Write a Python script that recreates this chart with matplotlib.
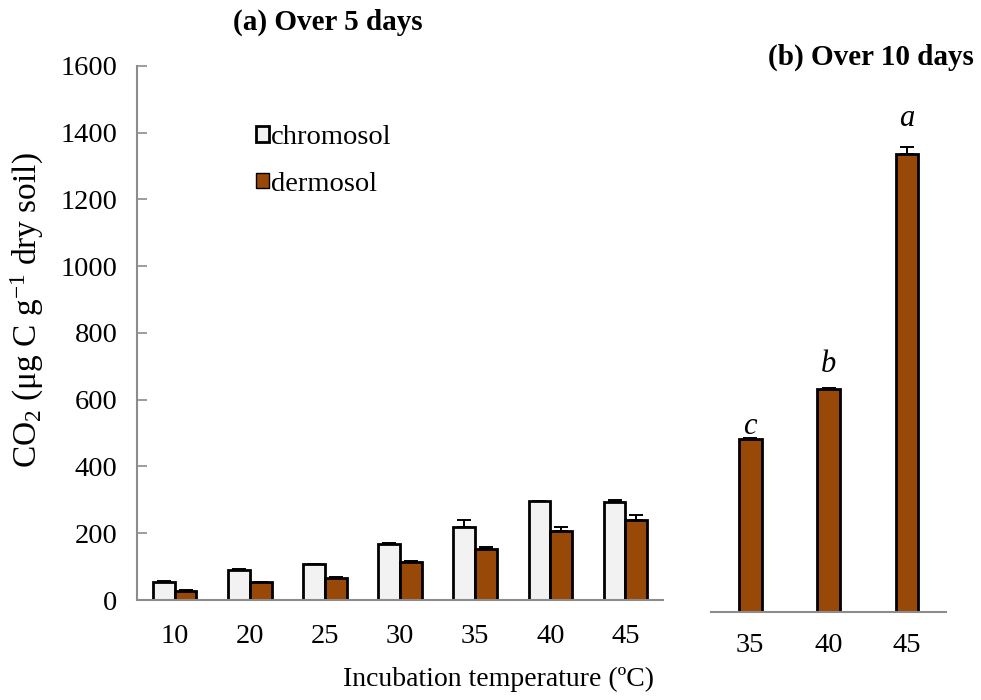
import matplotlib
matplotlib.use('Agg')
import matplotlib.pyplot as plt
from matplotlib.patches import Patch
import numpy as np

plt.rcParams['font.family'] = 'Liberation Serif'
plt.rcParams['mathtext.fontset'] = 'custom'
plt.rcParams['mathtext.rm'] = 'Liberation Serif'
plt.rcParams['mathtext.it'] = 'Liberation Serif:italic'

# (a) over 5 days
temps_5d = ['10', '20', '25', '30', '35', '40', '45']
chromosol = [55, 91, 107, 168, 219, 296, 294]
chromosol_err = [2, 2, 2, 2, 21, 2, 7]
dermosol = [28, 53, 67, 113, 154, 207, 241]
dermosol_err = [1, 2, 2, 3, 6, 13, 15]

# (b) over 10 days, dermosol only
temps_10d = ['35', '40', '45']
dermosol_10d = [518, 668, 1373]
dermosol_10d_err = [2, 2, 21]
letters_10d = ['c', 'b', 'a']

col_chrom = '#F2F2F2'
col_derm = '#984807'
axis_grey = '#8C8C8C'

fig = plt.figure(figsize=(9.81, 7.0), dpi=100)
ax1 = fig.add_axes([0.1397, 0.142857, 0.5362, 0.76286])
ax2 = fig.add_axes([0.7248, 0.12571, 0.2396, 0.76286])

w = 0.29
ekw = dict(ecolor='black', elinewidth=1.4, capsize=5, capthick=1.4)
x = np.arange(len(temps_5d))
zeros = np.zeros(len(temps_5d))
ax1.bar(x - w / 2, chromosol, w, color=col_chrom, edgecolor='black', linewidth=2,
        yerr=[zeros, chromosol_err], error_kw=ekw)
ax1.bar(x + w / 2, dermosol, w, color=col_derm, edgecolor='black', linewidth=2,
        yerr=[zeros, dermosol_err], error_kw=ekw)
ax1.set_xlim(-0.5, len(temps_5d) - 0.5)
ax1.set_ylim(0, 1600)
ax1.set_yticks(range(0, 1601, 200))
ax1.set_xticks(x)
ax1.set_xticklabels(temps_5d)
ax1.tick_params(axis='y', direction='in', length=7, width=1.2, color=axis_grey, pad=14, labelsize=20.5)
ax1.tick_params(axis='x', length=0, pad=17, labelsize=20.5)
for s in ['top', 'right']:
    ax1.spines[s].set_visible(False)
for s in ['left', 'bottom']:
    ax1.spines[s].set_color(axis_grey)
    ax1.spines[s].set_linewidth(1.5)

handles = [Patch(facecolor=col_chrom, edgecolor='black', linewidth=2, label='chromosol'),
           Patch(facecolor=col_derm, edgecolor='black', linewidth=1, label='dermosol')]
ax1.legend(handles=handles, loc='upper left', bbox_to_anchor=(0.177, 0.937), frameon=False,
           fontsize=20.5, handlelength=0.45, handleheight=0.45, handletextpad=0.08, labelspacing=0.75)

x2 = np.arange(len(temps_10d))
ax2.bar(x2, dermosol_10d, w, color=col_derm, edgecolor='black', linewidth=2,
        yerr=[np.zeros(len(temps_10d)), dermosol_10d_err], error_kw=ekw)
ax2.set_xlim(-0.5, len(temps_10d) - 0.5)
ax2.set_ylim(0, 1600)
ax2.set_xticks(x2)
ax2.set_xticklabels(temps_10d)
ax2.set_yticks([])
ax2.tick_params(axis='x', length=0, pad=15, labelsize=20.5)
for s in ['top', 'right', 'left']:
    ax2.spines[s].set_visible(False)
ax2.spines['bottom'].set_color(axis_grey)
ax2.spines['bottom'].set_linewidth(1.5)

label_offsets = [3, 12, 15]  # points above bar top
for xi, v, e, lab, off in zip(x2, dermosol_10d, dermosol_10d_err, letters_10d, label_offsets):
    ax2.annotate(lab, (xi, v + e), xytext=(0, off), textcoords='offset points',
                 ha='center', va='baseline', fontsize=22, style='italic')

fig.text(0.334, 0.968, '(a) Over 5 days', ha='center', va='center', fontsize=21, fontweight='bold')
fig.text(0.888, 0.918, '(b) Over 10 days', ha='center', va='center', fontsize=21, fontweight='bold')
fig.text(0.508, 0.029, 'Incubation temperature (ºC)', ha='center', va='center', fontsize=20)
fig.text(0.028, 0.557, r'CO$_2$ (μg C g$^{-1}$ dry soil)', ha='center', va='center',
         rotation=90, fontsize=24)

fig.savefig('out.png', dpi=100)
